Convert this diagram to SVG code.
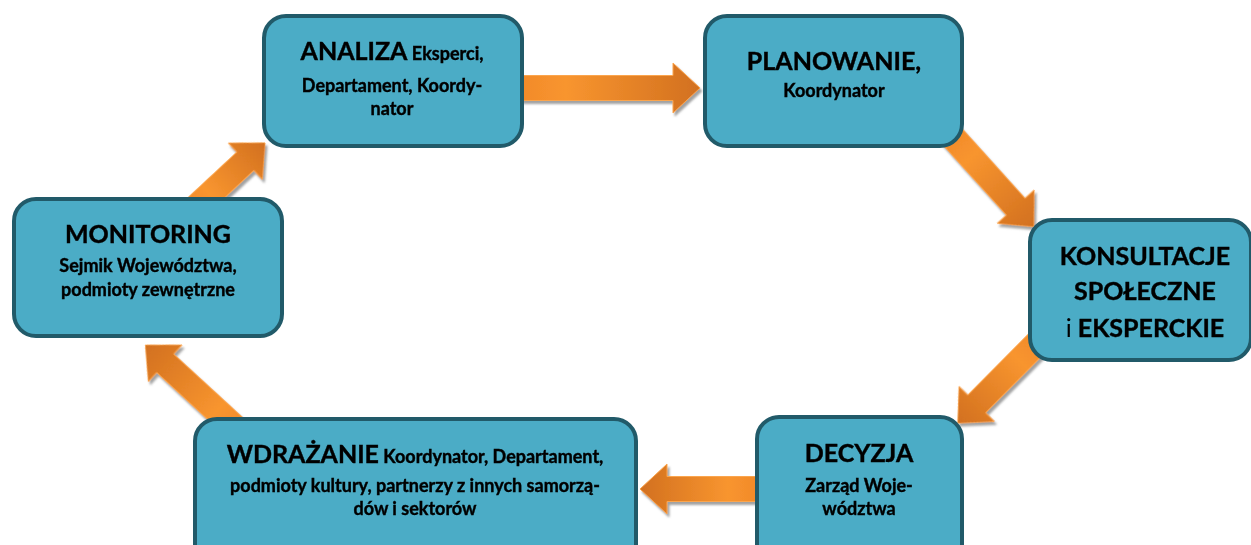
<svg xmlns="http://www.w3.org/2000/svg" width="1251" height="545" viewBox="0 0 1251 545">
<defs>
<linearGradient id="og" x1="0" y1="0" x2="1" y2="0">
<stop offset="0" stop-color="#F28A2A"/>
<stop offset="0.25" stop-color="#F8952F"/>
<stop offset="1" stop-color="#D2701F"/>
</linearGradient>
<filter id="sh" x="-20%" y="-20%" width="140%" height="140%">
<feDropShadow dx="2" dy="3" stdDeviation="1" flood-color="#7a7a7a" flood-opacity="0.7"/>
</filter>
</defs>
<style>
.box{fill:#4BACC6;stroke:#215A69;stroke-width:4}
.arr{fill:url(#og);stroke:#FBA54E;stroke-width:1}
text{font-family:Lato,"Noto Sans","Liberation Sans",sans-serif;font-weight:bold;fill:#000;stroke:#000;stroke-width:0.4;text-anchor:middle}
.t{font-size:25px}
.s{font-size:18px}
.n{font-weight:normal;stroke-width:0}
</style>
<g id="connectors" filter="url(#sh)">
<path class="arr" transform="translate(521,88)" d="M0,-12.5 H152 V-25 L179,0 L152,25 V12.5 H0 Z"/>
<path class="arr" transform="translate(950,134) rotate(47.9)" d="M0,-12.5 H98 V-25 L125,0 L98,25 V12.5 H0 Z"/>
<path class="arr" transform="translate(1040,340) rotate(134.7)" d="M0,-12.5 H90 V-25 L117,0 L90,25 V12.5 H0 Z"/>
<path class="arr" transform="translate(757,489) rotate(180)" d="M0,-12.5 H90 V-25 L117,0 L90,25 V12.5 H0 Z"/>
<path class="arr" transform="translate(241,433) rotate(222.6)" d="M0,-12.5 H103 V-25 L130,0 L103,25 V12.5 H0 Z"/>
<path class="arr" transform="translate(192,211) rotate(-43)" d="M0,-12.5 H73 V-25 L100,0 L73,25 V12.5 H0 Z"/>
</g>
<g id="analiza">
<rect class="box" x="264" y="16" width="258" height="130" rx="22"/>
<text x="392" y="60"><tspan class="t">ANALIZA</tspan><tspan class="s"> Eksperci,</tspan></text>
<text class="s" x="392" y="92">Departament, Koordy-</text>
<text class="s" x="392" y="115">nator</text>
</g>
<g id="planowanie">
<rect class="box" x="705" y="16" width="257" height="130" rx="22"/>
<text class="t" x="834" y="70">PLANOWANIE,</text>
<text class="s" x="834" y="97">Koordynator</text>
</g>
<g id="konsultacje">
<rect class="box" x="1030" y="220" width="221" height="140" rx="22"/>
<text class="t" x="1145" y="265">KONSULTACJE</text>
<text class="t" x="1145" y="300">SPOŁECZNE</text>
<text class="t" x="1145" y="337"><tspan class="n">i</tspan> EKSPERCKIE</text>
</g>
<g id="monitoring">
<rect class="box" x="14" y="199" width="268" height="137" rx="22"/>
<text class="t" x="148" y="243">MONITORING</text>
<text class="s" x="148" y="272">Sejmik Województwa,</text>
<text class="s" x="148" y="296">podmioty zewnętrzne</text>
</g>
<g id="wdrazanie">
<rect class="box" x="195" y="419" width="441" height="150" rx="22"/>
<text x="415" y="463"><tspan class="t">WDRAŻANIE</tspan><tspan class="s"> Koordynator, Departament,</tspan></text>
<text class="s" x="415" y="492">podmioty kultury, partnerzy z innych samorzą-</text>
<text class="s" x="415" y="515">dów i sektorów</text>
</g>
<g id="decyzja">
<rect class="box" x="757" y="417" width="205" height="150" rx="22"/>
<text class="t" x="859" y="462">DECYZJA</text>
<text class="s" x="859" y="492">Zarząd Woje-</text>
<text class="s" x="859" y="515">wództwa</text>
</g>
</svg>
